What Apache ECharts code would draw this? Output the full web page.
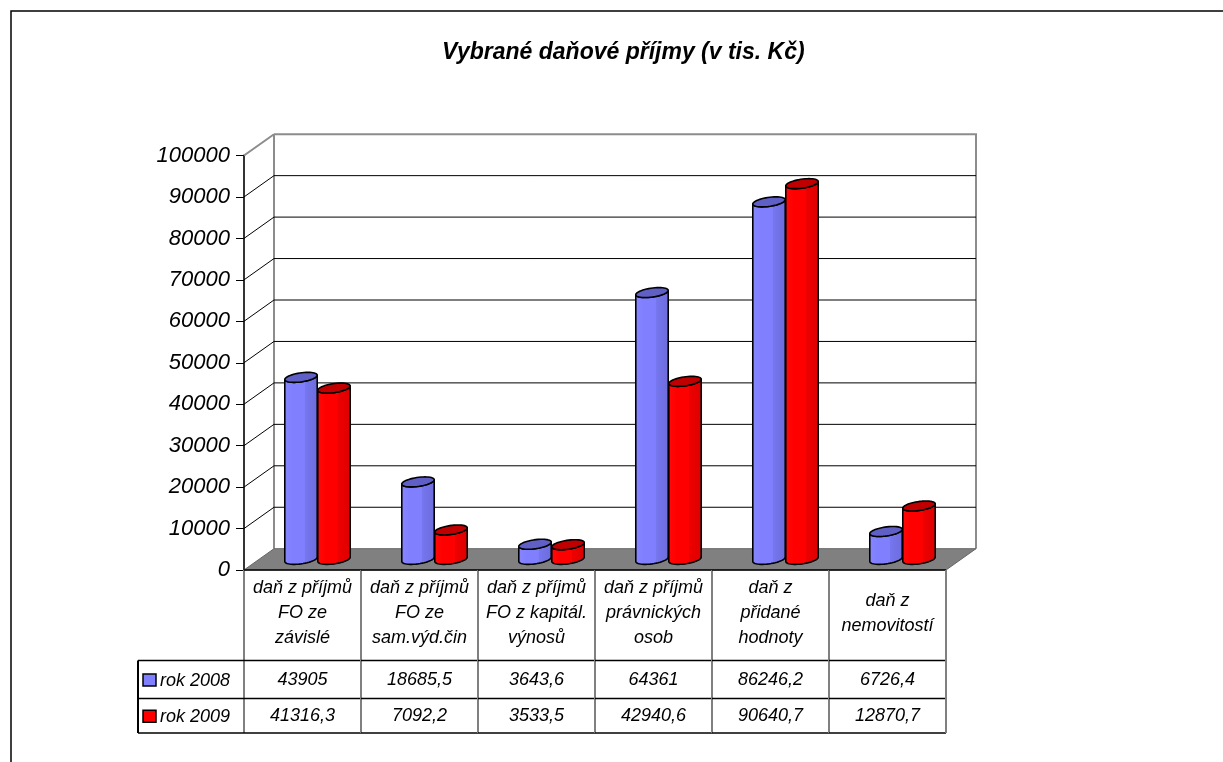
<!DOCTYPE html>
<html>
<head>
<meta charset="utf-8">
<title>Vybrané daňové příjmy</title>
<script src="https://cdn.jsdelivr.net/npm/echarts@6/dist/echarts.min.js"></script>
<style>
  html, body { margin: 0; padding: 0; background: #fff; }
  #chart { width: 1223px; height: 762px; }
</style>
</head>
<body>
<div id="chart"></div>
<script>
// data
var categories = [
  'daň z příjmů\nFO ze\nzávislé',
  'daň z příjmů\nFO ze\nsam.výd.čin',
  'daň z příjmů\nFO z kapitál.\nvýnosů',
  'daň z příjmů\nprávnických\nosob',
  'daň z\npřidané\nhodnoty',
  'daň z\nnemovitostí'
];
var seriesNames = ['rok 2008', 'rok 2009'];
var values2008 = [43905, 18685.5, 3643.6, 64361, 86246.2, 6726.4];
var values2009 = [41316.3, 7092.2, 3533.5, 42940.6, 90640.7, 12870.7];
var yMin = 0, yMax = 100000, yStep = 10000;
var yTicks = [0, 10000, 20000, 30000, 40000, 50000, 60000, 70000, 80000, 90000, 100000];

// depth of the fake 3d box
var DX = 30, DY = -21.3;
var FONT = '"Liberation Sans", Arial, sans-serif';

function fmt(v) { return String(v).replace('.', ','); }

function edges(api) {
  var p = api.coord([0, 0]);
  var bw = api.size([1, 0])[0];
  var xL = p[0] - bw / 2;
  return { xL: xL, xR: xL + bw * categories.length, y0: p[1], yTop: api.coord([0, yMax])[1], bw: bw };
}

function renderFloor(params, api) {
  var e = edges(api);
  var gray = '#8c8c8c';
  return {
    type: 'group',
    children: [
      { type: 'line', shape: { x1: e.xL + DX, y1: e.yTop + DY, x2: e.xL + DX, y2: e.y0 + DY }, style: { stroke: gray, lineWidth: 2 } },
      { type: 'line', shape: { x1: e.xR + DX, y1: e.yTop + DY, x2: e.xR + DX, y2: e.y0 + DY }, style: { stroke: gray, lineWidth: 2 } },
      { type: 'polygon', shape: { points: [[e.xL, e.y0], [e.xR, e.y0], [e.xR + DX, e.y0 + DY], [e.xL + DX, e.y0 + DY]] },
        style: { fill: '#808080', stroke: '#666', lineWidth: 1 } }
    ]
  };
}

function renderWall(params, api) {
  var v = api.value(1);
  if (v === yMin) return { type: 'group', children: [] };
  var e = edges(api);
  var y = api.coord([0, v])[1];
  var top = v === yMax;
  var c = top ? '#8c8c8c' : '#000';
  var w = top ? 2 : 1;
  return {
    type: 'group',
    children: [
      { type: 'line', shape: { x1: e.xL, y1: y, x2: e.xL + DX, y2: y + DY }, style: { stroke: c, lineWidth: w } },
      { type: 'line', shape: { x1: e.xL + DX, y1: y + DY, x2: e.xR + DX + (top ? 1 : 0), y2: y + DY }, style: { stroke: c, lineWidth: w } }
    ]
  };
}

function makeBar(side, pal) {
  return function (params, api) {
    var i = api.value(0), v = api.value(1);
    var top = api.coord([i, v]), base = api.coord([i, 0]);
    var bw = api.size([1, 0])[0];
    var cx = top[0] + side * bw * 0.141 + DX / 2;
    var yT = top[1] + DY / 2, yB = base[1] + DY / 2;
    var r = bw * 0.125, A = 7, B = -5;
    var t0 = Math.atan2(A, r);
    var N = 24, k;
    function pt(cy, t) { return [cx + r * Math.cos(t) + A * Math.sin(t), cy + B * Math.sin(t)]; }
    var body = [], face = [];
    for (k = 0; k <= N; k++) body.push(pt(yB, t0 + Math.PI + Math.PI * k / N));
    for (k = N; k >= 0; k--) body.push(pt(yT, t0 + Math.PI + Math.PI * k / N));
    for (k = 0; k < 2 * N; k++) face.push(pt(yT, Math.PI * k / N));
    return {
      type: 'group',
      children: [
        { type: 'polygon', shape: { points: body },
          style: { fill: { type: 'linear', x: 0, y: 0, x2: 1, y2: 0, colorStops: [
            { offset: 0, color: pal.light }, { offset: 0.25, color: pal.body }, { offset: 0.6, color: pal.body },
            { offset: 0.62, color: pal.mid }, { offset: 1, color: pal.dark }] },
            stroke: '#000', lineWidth: 1.6, lineJoin: 'round' } },
        { type: 'polygon', shape: { points: face }, style: { fill: pal.top, stroke: '#000', lineWidth: 1.6, lineJoin: 'round' } }
      ]
    };
  };
}

var blue = { light: '#8686ff', body: '#8080ff', mid: '#7676ee', dark: '#6c6cdc', top: '#5f5fc6' };
var red = { light: '#ff0a0a', body: '#ff0000', mid: '#ee0000', dark: '#dd0000', top: '#c00000' };

function renderTable(params, api) {
  var i = api.value(0);
  var p = api.coord([i, 0]);
  var bw = api.size([1, 0])[0];
  var xl = p[0] - bw / 2, xr = p[0] + bw / 2, y0 = p[1];
  var r1 = y0 + 90.5, r2 = y0 + 128.5, r3 = y0 + 163;
  var txt = { fill: '#000', font: 'italic 18px ' + FONT, align: 'center', verticalAlign: 'middle' };
  var kids = [
    { type: 'line', shape: { x1: xl, y1: y0, x2: xl, y2: r3 }, style: { stroke: '#808080', lineWidth: 2 } },
    { type: 'line', shape: { x1: xl, y1: y0, x2: xr, y2: y0 }, style: { stroke: '#000', lineWidth: 1.5 } },
    { type: 'line', shape: { x1: xl, y1: r1, x2: xr, y2: r1 }, style: { stroke: '#000', lineWidth: 1.5 } },
    { type: 'line', shape: { x1: xl, y1: r2, x2: xr, y2: r2 }, style: { stroke: '#000', lineWidth: 1.5 } },
    { type: 'line', shape: { x1: xl, y1: r3, x2: xr, y2: r3 }, style: { stroke: '#000', lineWidth: 1.5 } },
    { type: 'text', x: p[0], y: y0 + 43, style: Object.assign({ text: categories[i], lineHeight: 25 }, txt) },
    { type: 'text', x: p[0], y: (r1 + r2) / 2, style: Object.assign({ text: fmt(values2008[i]) }, txt) },
    { type: 'text', x: p[0], y: (r2 + r3) / 2, style: Object.assign({ text: fmt(values2009[i]) }, txt) }
  ];
  if (i === categories.length - 1) {
    kids.push({ type: 'line', shape: { x1: xr, y1: y0, x2: xr, y2: r3 }, style: { stroke: '#808080', lineWidth: 2 } });
  }
  if (i === 0) {
    // legend column
    var lx = xl - 106;
    kids.push(
      { type: 'line', shape: { x1: lx, y1: r1, x2: xl, y2: r1 }, style: { stroke: '#000', lineWidth: 1.5 } },
      { type: 'line', shape: { x1: lx, y1: r2, x2: xl, y2: r2 }, style: { stroke: '#000', lineWidth: 1.5 } },
      { type: 'line', shape: { x1: lx, y1: r3, x2: xl, y2: r3 }, style: { stroke: '#000', lineWidth: 1.5 } },
      { type: 'line', shape: { x1: lx, y1: r1, x2: lx, y2: r3 }, style: { stroke: '#000', lineWidth: 2 } }
    );
    [[r1, r2, blue.body], [r2, r3, red.body]].forEach(function (row, j) {
      var cy = (row[0] + row[1]) / 2;
      kids.push(
        { type: 'rect', shape: { x: lx + 5, y: cy - 5.5, width: 13, height: 12 }, style: { fill: row[2], stroke: '#000', lineWidth: 1.5 } },
        { type: 'text', x: lx + 22, y: cy + 1, style: { text: seriesNames[j], fill: '#000', font: 'italic 18px ' + FONT, align: 'left', verticalAlign: 'middle' } }
      );
    });
  }
  return { type: 'group', children: kids };
}

var chart = echarts.init(document.getElementById('chart'));
chart.setOption({
  backgroundColor: '#fff',
  animation: false,
  title: {
    text: 'Vybrané daňové příjmy (v tis. Kč)',
    left: 437, top: 36,
    textStyle: { fontFamily: FONT, fontStyle: 'italic', fontWeight: 'bold', fontSize: 23, color: '#000' }
  },
  graphic: [{
    type: 'rect', shape: { x: 11, y: 11, width: 1400, height: 1000 },
    style: { fill: 'none', stroke: '#000', lineWidth: 1.5 }, silent: true
  }],
  grid: { left: 244, top: 155.5, width: 702, height: 414.5 },
  xAxis: {
    type: 'category', data: categories,
    axisLine: { show: false }, axisTick: { show: false }, axisLabel: { show: false }, splitLine: { show: false }
  },
  yAxis: {
    type: 'value', min: yMin, max: yMax, interval: yStep,
    axisLine: { show: true, lineStyle: { color: '#333', width: 2 } },
    axisTick: { show: true, length: 8, lineStyle: { color: '#000', width: 1 } },
    axisLabel: { margin: 14, color: '#000', fontFamily: FONT, fontStyle: 'italic', fontSize: 22,
      formatter: function (v) { return String(v); } },
    splitLine: { show: false }
  },
  series: [
    { type: 'custom', name: 'floor', renderItem: renderFloor, data: [[0, 0]], silent: true, clip: false },
    { type: 'custom', name: 'wall', renderItem: renderWall, data: yTicks.map(function (v) { return [0, v]; }), silent: true, clip: false },
    { type: 'custom', name: seriesNames[0], renderItem: makeBar(-1, blue), data: values2008.map(function (v, i) { return [i, v]; }), clip: false },
    { type: 'custom', name: seriesNames[1], renderItem: makeBar(1, red), data: values2009.map(function (v, i) { return [i, v]; }), clip: false },
    { type: 'custom', name: 'table', renderItem: renderTable, data: categories.map(function (c, i) { return [i, 0]; }), silent: true, clip: false }
  ]
});
</script>
</body>
</html>
